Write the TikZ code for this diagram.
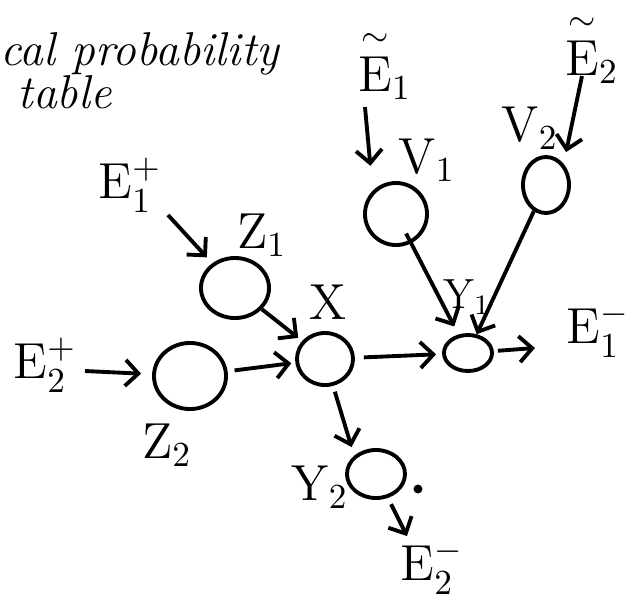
\documentclass[tikz,border=0pt]{standalone}
\usepackage{amsmath}
\usetikzlibrary{shapes.geometric,arrows.meta}
\begin{document}
\begin{tikzpicture}[x=0.01cm,y=-0.01cm,
  nd/.style={ellipse,draw,line width=1.1pt,inner sep=0pt},
  lbl/.style={font=\fontsize{14}{16}\selectfont,inner sep=0pt},
  arr/.style={line width=1.1pt,-{Straight Barb[length=1.3mm,width=2.6mm]}},
  hand/.style={font=\fontsize{13.5}{16}\selectfont\itshape,inner sep=0pt,anchor=base west}]
\useasboundingbox (0,0) rectangle (638,602);
% handwritten note
\node[hand] (note1) at (0,65) {cal probability};
\node[hand] (note2) at (17,108) {table};
% circles
\node[nd,minimum width=0.68cm,minimum height=0.60cm] (Z1) at (235,288) {};
\node[nd,minimum width=0.72cm,minimum height=0.66cm] (Z2) at (190,376) {};
\node[nd,minimum width=0.56cm,minimum height=0.52cm] (X) at (325,359) {};
\node[nd,minimum width=0.48cm,minimum height=0.36cm] (Y1) at (468,353) {};
\node[nd,minimum width=0.62cm,minimum height=0.62cm] (V1) at (396,214) {};
\node[nd,minimum width=0.46cm,minimum height=0.56cm] (V2) at (546,185) {};
\node[nd,minimum width=0.58cm,minimum height=0.48cm] (Y2) at (376,474) {};
\node[circle,fill,inner sep=0.9pt] (dot) at (418,489) {};
% labels
\node[lbl] (TE1) at (385,64) {$\overset{\sim}{\mathrm{E}}_1$};
\node[lbl] (TE2) at (592,48) {$\overset{\sim}{\mathrm{E}}_2$};
\node[lbl] (E1p) at (130,185) {$\mathrm{E}_1^{+}$};
\node[lbl] (E2p) at (45,365) {$\mathrm{E}_2^{+}$};
\node[lbl] (E1m) at (598,330) {$\mathrm{E}_1^{-}$};
\node[lbl] (E2m) at (432,567) {$\mathrm{E}_2^{-}$};
\node[lbl] (lZ1) at (262,235) {$\mathrm{Z}_1$};
\node[lbl] (lZ2) at (167,445) {$\mathrm{Z}_2$};
\node[lbl] (lX) at (328,302) {$\mathrm{X}$};
\node[lbl,font=\fontsize{12}{14}\selectfont] (lY1) at (467,297) {$\mathrm{Y}_1$};
\node[lbl] (lY2) at (320,487) {$\mathrm{Y}_2$};
\node[lbl] (lV1) at (427,160) {$\mathrm{V}_1$};
\node[lbl] (lV2) at (530,128) {$\mathrm{V}_2$};
% free arrow ends
\coordinate (e1ps) at (168,215);
\coordinate (e2ps) at (85,371);
\coordinate (te1s) at (365,107);
\coordinate (te2s) at (582,76);
\coordinate (e1me) at (535,348);
\coordinate (e2me) at (407,536);
% arrows
\draw[arr,shorten >=0.08cm] (e1ps) -- (Z1);
\draw[arr,shorten >=0.05cm] (Z1) -- (X);
\draw[arr,shorten >=0.11cm] (e2ps) -- (Z2);
\draw[arr,shorten <=0.07cm,shorten >=0.04cm] (Z2) -- (X);
\draw[arr,shorten <=0.09cm,shorten >=0.06cm] (X) -- (Y1);
\draw[arr,shorten <=0.22cm,shorten >=0.09cm] (V1.center) -- (Y1);
\draw[arr] (V2) -- (Y1);
\draw[arr,shorten <=0.04cm] (Y1) -- (e1me);
\draw[arr,shorten <=0.06cm,shorten >=0.09cm] (X) -- (Y2.north west);
\draw[arr,shorten <=0.07cm] (Y2) -- (e2me);
\draw[arr,shorten >=0.25cm] (te1s) -- (V1.north west);
\draw[arr,shorten >=0.12cm] (te2s) -- (V2.north east);
\end{tikzpicture}
\end{document}
